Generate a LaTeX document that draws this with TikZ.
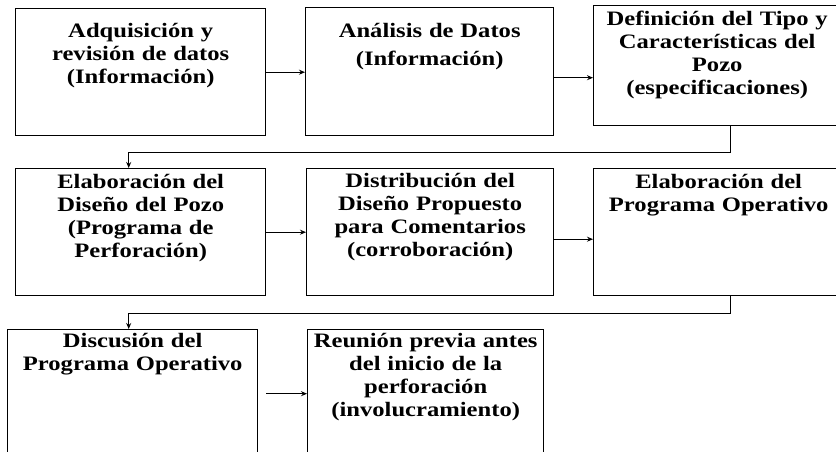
\documentclass[tikz,border=0pt]{standalone}
\usepackage{fontspec}
\setmainfont{Liberation Serif}[FakeStretch=1.2]
\usetikzlibrary{arrows.meta,positioning,calc}

\begin{document}
\begin{tikzpicture}[
  x=1pt, y=-1pt,
  >={Stealth[length=6pt, width=5pt]},
  stage/.style={draw=black, line width=1.4pt, anchor=north west, align=center,
                inner sep=0pt, font=\fontsize{20.5}{23}\selectfont\bfseries},
  dims/.style n args={3}{text width=#1, text height=#2, text depth=#3},
  flow/.style={->, line width=1.1pt},
]
\useasboundingbox (0,0) rectangle (836,452);
\clip (0,0) rectangle (836,452);

% ---------- Row 1 ----------
\node[stage, dims={250pt}{29pt}{98pt}] (adq) at (15,8)
  {Adquisición y\\revisión de datos\\(Información)};
\node[stage, dims={248pt}{30pt}{98pt}] (ana) at (305,7)
  {Análisis de Datos\\[5pt](Información)};
\node[stage, dims={247pt}{20pt}{100pt}] (tipo) at (593,5)
  {Definición del Tipo y\\Características del\\Pozo\\(especificaciones)};

\draw[flow] (adq.east) -- (adq.east -| ana.west);
\draw[flow] ([yshift=-6pt]ana.east) -- ([yshift=-6pt]ana.east -| tipo.west);

% ---------- Row 2 ----------
\node[stage, dims={250pt}{20pt}{107pt}] (dis) at (15,168)
  {Elaboración del\\Diseño del Pozo\\(Programa de\\Perforación)};
\node[stage, dims={247pt}{19pt}{108pt}] (distr) at (306,168)
  {Distribución del\\Diseño Propuesto\\para Comentarios\\(corroboración)};
\node[stage, dims={250pt}{20pt}{107pt}] (prog) at (593,168)
  {Elaboración del\\Programa Operativo};

\draw[flow] ([xshift=13pt]tipo.south) -- ++(0,26) -| ([xshift=-12pt]dis.north);
\draw[flow] (dis.east) -- (dis.east -| distr.west);
\draw[flow] ([yshift=-7pt]distr.east) -- ([yshift=-7pt]distr.east -| prog.west);

% ---------- Row 3 ----------
\node[stage, dims={250pt}{18pt}{122pt}] (disc) at (7,329)
  {Discusión del\\Programa Operativo};
\node[stage, dims={236pt}{18pt}{122pt}] (reun) at (307,329)
  {Reunión previa antes\\del inicio de la\\perforación\\(involucramiento)};

\draw[flow] ([xshift=12pt]prog.south) -- ++(0,17) -| ([xshift=-4pt]disc.north);
\draw[flow, shorten <=8pt] ([yshift=6pt]disc.east) -- ([yshift=6pt]disc.east -| reun.west);

\end{tikzpicture}
\end{document}
